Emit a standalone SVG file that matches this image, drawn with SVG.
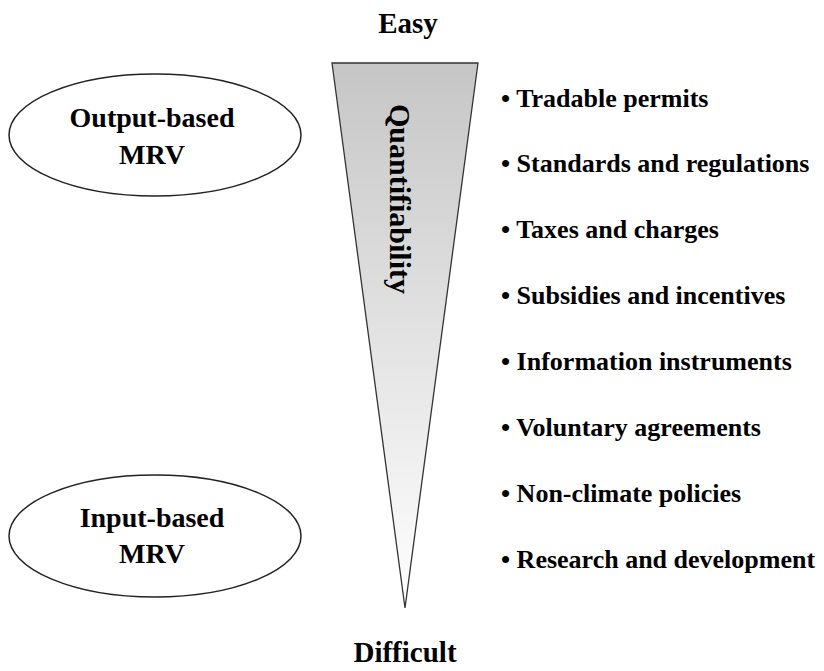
<svg xmlns="http://www.w3.org/2000/svg" width="824" height="671" viewBox="0 0 824 671">
<defs>
<linearGradient id="wedgeFill" x1="0" y1="0" x2="0" y2="1">
<stop offset="0" stop-color="#c6c6c6"/>
<stop offset="1" stop-color="#ffffff"/>
</linearGradient>
</defs>
<style>
.t{font-family:"Liberation Serif","Times New Roman",serif;font-weight:bold;fill:#000;}
.big{font-size:28px;}
.end{font-size:29px;}
.item{font-size:26px;}
.oval{fill:#fff;stroke:#222;stroke-width:1.5;}
.mid{text-anchor:middle;}
</style>
<rect width="824" height="671" fill="#fff"/>
<g id="easy"><text class="t end mid" x="408" y="33">Easy</text></g>
<g id="difficult"><text class="t end mid" x="405" y="662">Difficult</text></g>
<g id="wedge">
<polygon points="332,63 478,63 405,608" fill="url(#wedgeFill)" stroke="#333" stroke-width="1.3"/>
<text class="t mid" font-size="30" transform="translate(390,199) rotate(90)">Quantifiability</text>
</g>
<g id="output-mrv">
<ellipse class="oval" cx="155" cy="135" rx="146" ry="61"/>
<text class="t big mid" x="152" y="127">Output-based</text>
<text class="t big mid" x="152" y="164">MRV</text>
</g>
<g id="input-mrv">
<ellipse class="oval" cx="155" cy="536" rx="146" ry="61"/>
<text class="t big mid" x="152" y="527">Input-based</text>
<text class="t big mid" x="152" y="563">MRV</text>
</g>
<g id="instruments">
<text class="t item" x="501" y="107">• Tradable permits</text>
<text class="t item" x="501" y="172">• Standards and regulations</text>
<text class="t item" x="501" y="238">• Taxes and charges</text>
<text class="t item" x="501" y="304">• Subsidies and incentives</text>
<text class="t item" x="501" y="370">• Information instruments</text>
<text class="t item" x="501" y="436">• Voluntary agreements</text>
<text class="t item" x="501" y="502">• Non-climate policies</text>
<text class="t item" x="501" y="568">• Research and development</text>
</g>
<g id="connectors"></g>
</svg>
